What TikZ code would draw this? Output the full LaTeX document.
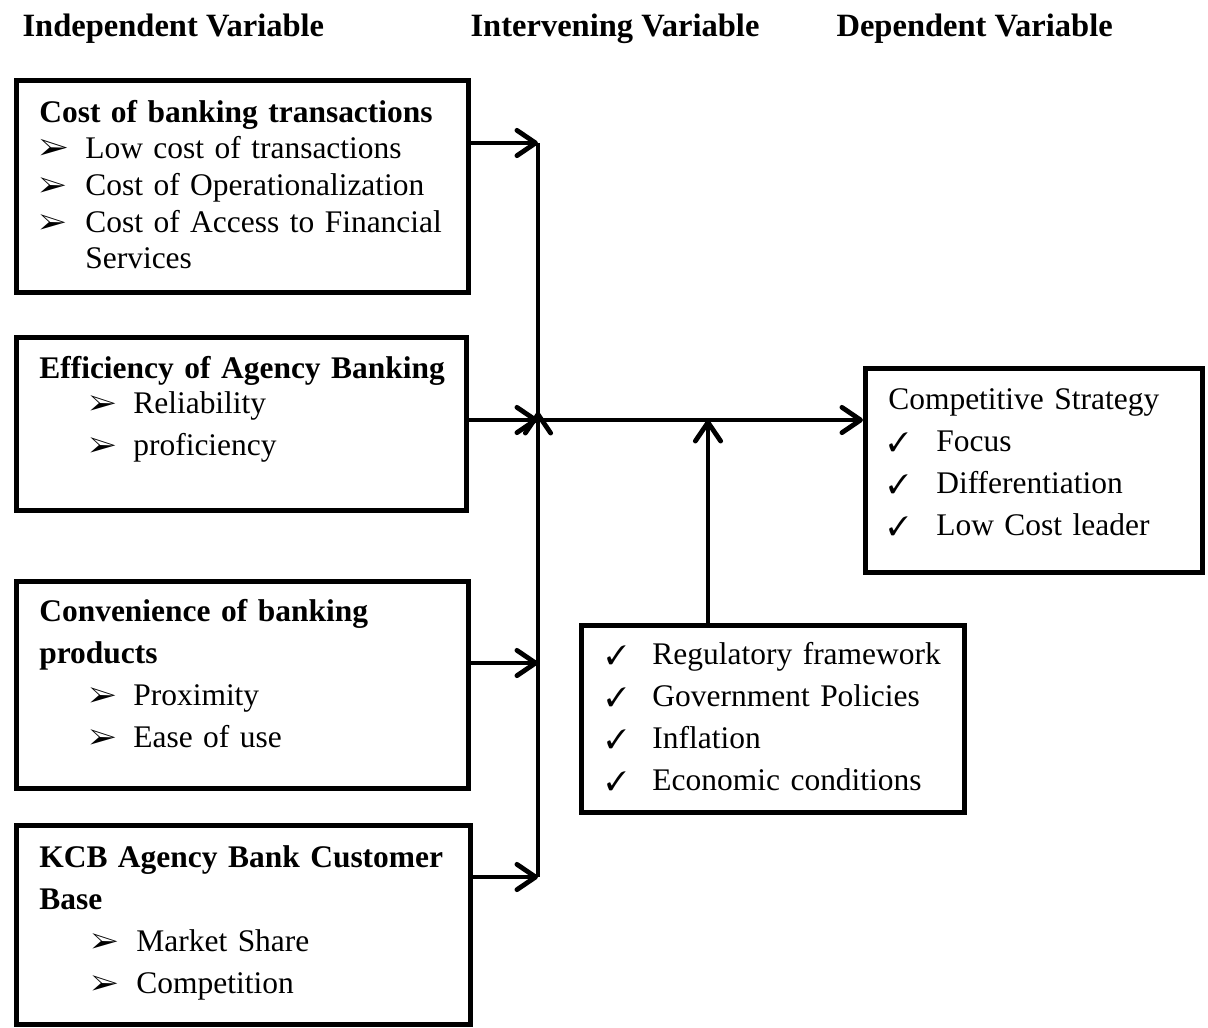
\documentclass[tikz,border=0pt]{standalone}
\usepackage{fontspec}
\setmainfont{Liberation Serif}
\usepackage{pifont}
\usetikzlibrary{arrows.meta}
\newcommand{\barrow}{{\fontsize{11}{11}\selectfont\ding{226}}}
\newcommand{\tick}{{\fontsize{10}{10}\selectfont\ding{51}}}

\begin{document}
\begin{tikzpicture}[
  x=0.375pt, y=-0.375pt,
  every node/.style={font=\fontsize{12}{14}\selectfont},
  box/.style={draw, line width=1.8pt, anchor=north west, align=left, inner xsep=8.6pt, inner ysep=0pt, font=\fontsize{11.8}{15.8}\selectfont},
  head/.style={anchor=base west, inner sep=0pt, font=\fontsize{12.2}{14}\selectfont\bfseries},
  arr/.style={-{Straight Barb[length=7pt,width=9.5pt,round]}, line width=1.8pt},
  bus/.style={line width=1.8pt}
]
\useasboundingbox (0,0) rectangle (1208,1027);

% column headings
\node[head] (indep) at (22,36) {Independent Variable};
\node[head] (interv) at (470,36) {Intervening Variable};
\node[head] (dep) at (836,36) {Dependent Variable};

% independent variables
\node[box, text width=152.3pt, text height=15.75pt, text depth=63.75pt, font=\fontsize{11.8}{13.7}\selectfont] (cost) at (14,78) {%
  \textbf{Cost of banking transactions}\\
  \makebox[17.25pt][l]{\ding{226}}Low cost of transactions\\
  \makebox[17.25pt][l]{\barrow}Cost of Operationalization\\
  \makebox[17.25pt][l]{\barrow}\makebox[135pt][s]{Cost of Access to Financial}\\
  \hspace*{17.25pt}Services};
\node[box, text width=151.55pt, text height=15.4pt, text depth=49.5pt] (eff) at (14,335) {%
  \mbox{\textbf{Efficiency of Agency Banking}}\\[-2.7pt]
  \hspace*{18.75pt}\makebox[16.5pt][l]{\barrow}Reliability\\
  \hspace*{18.75pt}\makebox[16.5pt][l]{\barrow}proficiency};
\node[box, text width=152.3pt, text height=15pt, text depth=62.6pt] (conv) at (14,579) {%
  \textbf{Convenience of banking}\\
  \textbf{products}\\
  \hspace*{18.75pt}\makebox[16.5pt][l]{\barrow}Proximity\\
  \hspace*{18.75pt}\makebox[16.5pt][l]{\barrow}Ease of use};
\node[box, text width=153.05pt, text height=15.75pt, text depth=58.9pt] (kcb) at (14,823) {%
  \makebox[\linewidth][s]{\textbf{KCB Agency Bank Customer}}\\
  \textbf{Base}\\
  \hspace*{19.5pt}\makebox[16.9pt][l]{\barrow}Market Share\\
  \hspace*{19.5pt}\makebox[16.9pt][l]{\barrow}Competition};

% dependent variable
\node[box, text width=109.2pt, text height=15.4pt, text depth=61.1pt] (strat) at (863,366) {%
  Competitive Strategy\\
  \makebox[18pt][l]{\tick}Focus\\
  \makebox[18pt][l]{\tick}Differentiation\\
  \makebox[18pt][l]{\tick}Low Cost leader};

% intervening variables
\node[box, inner xsep=9.4pt, text width=124.8pt, text height=14.6pt, text depth=55.5pt] (env) at (579,623) {%
  \mbox{\makebox[17.25pt][l]{\tick}Regulatory framework}\\
  \makebox[17.25pt][l]{\tick}Government Policies\\
  \makebox[17.25pt][l]{\tick}Inflation\\
  \makebox[17.25pt][l]{\tick}Economic conditions};

% bus points
\coordinate (top) at (538,143);
\coordinate (jn) at (538,420);
\coordinate (c3) at (538,663);
\coordinate (low) at (538,877);
\coordinate (mid) at (708,420);

\draw[arr] (cost.east |- top) -- (top);
\draw[bus] (top) -- (jn);
\draw[arr] (low) -- ([yshift=3pt]jn);
\draw[arr] (eff.east |- jn) -- (jn);
\draw[arr] (conv.east |- c3) -- (c3);
\draw[arr] (kcb.east |- low) -- (low);
\draw[arr] (jn) -- (jn -| strat.west);
\draw[arr] (mid |- env.north) -- (mid);
\end{tikzpicture}
\end{document}
